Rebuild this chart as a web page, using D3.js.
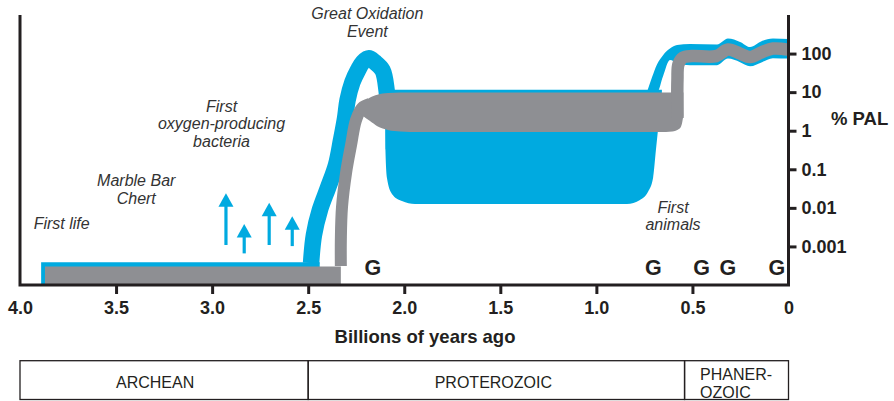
<!DOCTYPE html>
<html>
<head>
<meta charset="utf-8">
<style>
  body { margin: 0; background: #fff; }
  svg { display: block; font-family: "Liberation Sans", Arial, Helvetica, sans-serif; }
  .note { font-style: italic; font-size: 16px; fill: #333; text-anchor: middle; }
  .axis text { font-size: 18px; font-weight: bold; fill: #231f20; }
  .axis line { stroke: #231f20; stroke-width: 3; }
  .glac { font-size: 21.5px; font-weight: bold; fill: #231f20; text-anchor: middle; }
  .eon { fill: none; stroke: #231f20; stroke-width: 1.3; }
  .eon-label { font-size: 16px; fill: #231f20; }
</style>
</head>
<body>
<svg width="894" height="401"></svg>
<script src="https://d3js.org/d3.v7.min.js"></script>
<script>

// ages in billions of years ago, oxygen in % of present atmospheric level (PAL)
var ageTicks = [4.0, 3.5, 3.0, 2.5, 2.0, 1.5, 1.0, 0.5, 0];
var ageLabels = ["4.0", "3.5", "3.0", "2.5", "2.0", "1.5", "1.0", "0.5", "0"];
var palTicks = [100, 10, 1, 0.1, 0.01, 0.001];
var palLabels = ["100", "10", "1", "0.1", "0.01", "0.001"];

var eonNames = [["ARCHEAN"], ["PROTEROZOIC"], ["PHANER-", "OZOIC"]];
var eonBounds = [4.0, 2.5, 0.541, 0];

// blue envelope  [age, low, high] for areas, [age, pal] for lines
var blueArchean = [[3.89, 1e-4, 3.9e-4], [2.44, 1e-4, 3.9e-4]];
var blueGOE = [[2.485, 3.7e-4], [2.47, 2.0e-3], [2.439, 8.8e-3], [2.397, 0.033], [2.355, 0.13],
  [2.329, 0.57], [2.308, 2.1], [2.295, 6.2], [2.270, 18], [2.241, 37], [2.215, 60], [2.184, 76],
  [2.153, 60], [2.113, 37], [2.092, 11.3], [2.085, 3.4]];
var blueProterozoic = [[2.100, 10, 11.5], [2.098, 0.32, 11.5], [2.090, 0.059, 11.5], [2.064, 0.023, 11.5],
  [2.012, 0.015, 11.5], [1.944, 0.0126, 11.5], [0.841, 0.0126, 11.5], [0.773, 0.016, 11.5],
  [0.731, 0.026, 11.5], [0.705, 0.059, 11.5], [0.690, 0.32, 11.5], [0.674, 1.9, 11.5], [0.659, 10, 11.5]];
var bluePhanerozoic = [[0.737, 10, 10], [0.71, 10, 24.6], [0.684, 10, 53], [0.653, 26, 91], [0.617, 68, 135],
  [0.58, 57, 166], [0.513, 50, 176], [0.372, 50, 171], [0.315, 74, 245], [0.252, 60, 199],
  [0.2, 47, 147], [0.138, 60, 211], [0.081, 76, 245], [0, 74, 238]];

// grey estimate
var greyArchean = [[3.87, 1e-4, 3.0e-4], [2.33, 1e-4, 3.0e-4]];
var greyRise = [[2.33, 3.1e-4], [2.33, 1.5e-3], [2.324, 0.0105], [2.303, 0.08], [2.277, 0.42],
  [2.251, 1.9], [2.22, 3.9], [2.18, 4.9]];
var greyProterozoic = [[2.24, 3.0, 3.4], [2.215, 2.4, 5.2], [2.18, 1.8, 7.2], [2.14, 1.3, 8.6],
  [2.085, 1.04, 9.5], [2.02, 0.95, 9.8], [1.92, 0.92, 9.8], [0.67, 0.92, 9.8], [0.605, 0.95, 9.8],
  [0.57, 1.1, 9.8], [0.555, 1.5, 9.8], [0.547, 2.5, 9.8]];
var greyPhanerozoic = [[0.578, 2.13], [0.578, 20.6], [0.5726, 53.4], [0.549, 78.8], [0.502, 86],
  [0.377, 86], [0.315, 127], [0.252, 100], [0.2, 81], [0.138, 109], [0.081, 135], [0, 127]];

// glaciations and first oxygen-producing bacteria evidence
var glaciations = [2.163, 0.704, 0.452, 0.315, 0.061];
var arrowAges = [2.928, 2.833, 2.703, 2.583];
var arrowFrom = [1.09e-3, 6.6e-4, 1.09e-3, 1.02e-3];
var arrowTo = [0.0238, 3.8e-3, 0.0136, 6.1e-3];

var noteText = [["Great Oxidation", "Event"], ["First", "oxygen-producing", "bacteria"],
  ["Marble Bar", "Chert"], ["First life"], ["First", "animals"]];
var noteAge = [2.192, 2.951, 3.395, 3.783, 0.601];
var notePal = [783, 3.1, 0.0367, 2.77e-3, 7.45e-3];

var blue = "#00aae0";
var grey = "#8e8f93";
var ink = "#231f20";

var svg = d3.select("svg");

var x = d3.scaleLinear().domain([4, 0]).range([20, 788.5]);
var y = d3.scaleLog().domain([1e-4, 1000]).range([285, 15]);

var band = d3.area()
    .x(function(d) { return x(d[0]); })
    .y0(function(d) { return y(d[1]); })
    .y1(function(d) { return y(d[2]); });

var line = d3.line()
    .x(function(d) { return x(d[0]); })
    .y(function(d) { return y(d[1]); })
    .curve(d3.curveCatmullRom.alpha(0.5));

var g = svg.append("g");

// blue range
g.append("path").datum(blueArchean).attr("d", band.curve(d3.curveLinear)).attr("fill", blue);
g.append("path").datum(blueGOE).attr("d", line)
    .attr("fill", "none").attr("stroke", blue).attr("stroke-width", 16.5);
g.append("path").datum(blueProterozoic).attr("d", band.curve(d3.curveMonotoneX)).attr("fill", blue);
g.append("path").datum(bluePhanerozoic).attr("d", band.curve(d3.curveMonotoneX)).attr("fill", blue);

// grey estimate
g.append("path").datum(greyArchean).attr("d", band.curve(d3.curveLinear)).attr("fill", grey);
g.append("path").datum(greyRise).attr("d", line)
    .attr("fill", "none").attr("stroke", grey).attr("stroke-width", 12);
g.append("path").datum(greyProterozoic).attr("d", band.curve(d3.curveMonotoneX)).attr("fill", grey);
g.append("path").datum(greyPhanerozoic).attr("d", line)
    .attr("fill", "none").attr("stroke", grey).attr("stroke-width", 12.5);

// arrows
arrowAges.forEach(function(a, i) {
  var ax = x(a), tip = y(arrowTo[i]);
  g.append("line")
      .attr("x1", ax).attr("x2", ax)
      .attr("y1", y(arrowFrom[i])).attr("y2", tip + 10)
      .attr("stroke", blue).attr("stroke-width", 3.2);
  g.append("path")
      .attr("d", "M" + ax + "," + tip + "L" + (ax + 7.5) + "," + (tip + 13.5) + "L" + (ax - 7.5) + "," + (tip + 13.5) + "Z")
      .attr("fill", blue);
});

// glaciation markers
g.selectAll(".glac")
    .data(glaciations)
    .enter().append("text")
    .attr("class", "glac")
    .attr("x", function(d) { return x(d); })
    .attr("y", y(1e-4) - 10)
    .text("G");

// annotations
noteText.forEach(function(lines, i) {
  var t = g.append("text").attr("class", "note")
      .attr("x", x(noteAge[i])).attr("y", y(notePal[i]));
  lines.forEach(function(s, j) {
    t.append("tspan").attr("x", x(noteAge[i])).attr("dy", j ? 17.7 : 0).text(s);
  });
});

// axes
var bottom = svg.append("g").attr("class", "axis")
    .attr("transform", "translate(0," + y(1e-4) + ")")
    .call(d3.axisBottom(x).tickValues(ageTicks)
      .tickFormat(function(d, i) { return ageLabels[i]; })
      .tickSize(9).tickPadding(7));
bottom.select(".domain").remove();
bottom.selectAll(".tick line").filter(function(d) { return d === 4 || d === 0; }).remove();

var right = svg.append("g").attr("class", "axis")
    .attr("transform", "translate(" + x(0) + ",0)")
    .call(d3.axisRight(y).tickValues(palTicks)
      .tickFormat(function(d, i) { return palLabels[i]; })
      .tickSize(8).tickPadding(5));
right.select(".domain").remove();

svg.append("path")
    .attr("d", "M" + x(4) + "," + y(1000) + "V" + y(1e-4) + "H" + x(0) + "V" + y(1000))
    .attr("fill", "none").attr("stroke", ink).attr("stroke-width", 3);

svg.append("text")
    .attr("x", 425).attr("y", 342.5)
    .attr("text-anchor", "middle")
    .style("font-size", "18.5px").style("font-weight", "bold").style("fill", ink)
    .text("Billions of years ago");

svg.append("text")
    .attr("x", 831).attr("y", 125)
    .style("font-size", "18.5px").style("font-weight", "bold").style("fill", ink)
    .text("% PAL");

// eon bar
var eonTop = 360.7, eonBottom = 399.5;
var labelShift = [-9, -3, 0];
eonNames.forEach(function(name, i) {
  var x0 = x(eonBounds[i]), x1 = x(eonBounds[i + 1]);
  svg.append("rect").attr("class", "eon")
      .attr("x", x0).attr("y", eonTop)
      .attr("width", x1 - x0).attr("height", eonBottom - eonTop);
  var t = svg.append("text").attr("class", "eon-label");
  if (name.length === 1) {
    t.attr("x", (x0 + x1) / 2 + labelShift[i]).attr("y", 388.3).attr("text-anchor", "middle").text(name[0]);
  } else {
    name.forEach(function(s, j) {
      t.append("tspan").attr("x", x0 + 15.5).attr("y", 380 + j * 18.3).text(s);
    });
  }
});

</script>
</body>
</html>
